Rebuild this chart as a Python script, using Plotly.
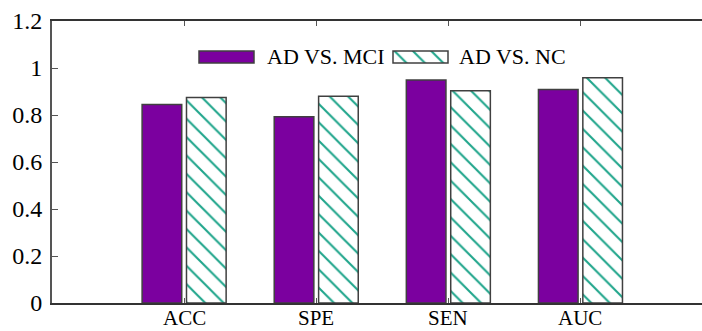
import plotly.graph_objects as go

# Evaluation metrics for the two classification tasks
metrics = ["ACC", "SPE", "SEN", "AUC"]
ad_vs_mci = [0.845, 0.793, 0.949, 0.908]
ad_vs_nc = [0.874, 0.880, 0.903, 0.959]
series_names = ["AD VS. MCI", "AD VS. NC"]
y_ticks = [0, 0.2, 0.4, 0.6, 0.8, 1.0, 1.2]

PURPLE = "#7b009f"
TEAL = "#1fa58b"
EDGE = "#404040"
FONT = "Liberation Serif"

W, H = 702, 331
L, R, T, B = 52, 0, 21, 28

hatch = dict(shape="\\", fgcolor=TEAL, bgcolor="white", fgopacity=1,
             size=13, solidity=0.16)

fig = go.Figure()

fig.add_trace(go.Bar(
    x=metrics, y=ad_vs_mci, name=series_names[0],
    width=0.3, offset=-0.318,
    marker=dict(color=PURPLE, line=dict(color=EDGE, width=1.5)),
    showlegend=False,
))
fig.add_trace(go.Bar(
    x=metrics, y=ad_vs_nc, name=series_names[1],
    width=0.3, offset=0.018,
    marker=dict(color="white", line=dict(color=EDGE, width=1.5), pattern=hatch),
    showlegend=False,
))

# Category labels under the axis
for m in metrics:
    fig.add_annotation(
        x=m, y=0, xref="x", yref="y", text=m, showarrow=False,
        xanchor="center", yanchor="top", yshift=-2, borderpad=0,
        font=dict(family=FONT, size=21, color="black"),
    )

# Legend drawn on a pixel-scaled overlay axis pair so the swatches can be wide
legend_x = [199, 393]
legend_text_x = [265, 457]
legend_y = 57
swatch_w = 55
fig.add_trace(go.Bar(
    x=[swatch_w], y=[legend_y], base=[legend_x[0]], orientation="h", width=12,
    marker=dict(color=PURPLE, line=dict(color=EDGE, width=1.5)),
    xaxis="x2", yaxis="y2", showlegend=False, hoverinfo="skip",
))
fig.add_trace(go.Bar(
    x=[swatch_w], y=[legend_y], base=[legend_x[1]], orientation="h", width=12,
    marker=dict(color="white", line=dict(color=EDGE, width=1.5), pattern=hatch),
    xaxis="x2", yaxis="y2", showlegend=False, hoverinfo="skip",
))
for name, tx in zip(series_names, legend_text_x):
    fig.add_annotation(
        x=tx, y=legend_y - 1, xref="x2", yref="y2", text=name, showarrow=False,
        xanchor="left", yanchor="middle",
        font=dict(family=FONT, size=22, color="black"),
    )

fig.update_layout(
    width=W, height=H,
    margin=dict(l=L, r=R, t=T, b=B, pad=0, autoexpand=False),
    paper_bgcolor="white", plot_bgcolor="white",
    barmode="overlay",
    font=dict(family=FONT, size=23, color="black"),
    xaxis=dict(
        type="category", range=[-1, 3.92],
        showline=True, linecolor="#333333", linewidth=1.5, mirror="ticks",
        ticks="inside", ticklen=5, tickcolor="#555555", tickwidth=1,
        showgrid=False, zeroline=False, showticklabels=False,
        automargin=False,
    ),
    yaxis=dict(
        range=[0, 1.2], tickvals=y_ticks,
        showline=True, linecolor="#555555", linewidth=2,
        ticks="inside", ticklen=6, tickcolor="#555555", tickwidth=1,
        showgrid=False, zeroline=False,
        tickfont=dict(family=FONT, size=24, color="black"),
        ticklabelstandoff=3, automargin=False,
    ),
    xaxis2=dict(range=[L, W - R], visible=False, overlaying="x",
                anchor="y2", fixedrange=True),
    yaxis2=dict(range=[H - B, T], visible=False, overlaying="y",
                anchor="x2", fixedrange=True),
)

fig.write_html("out.html")
